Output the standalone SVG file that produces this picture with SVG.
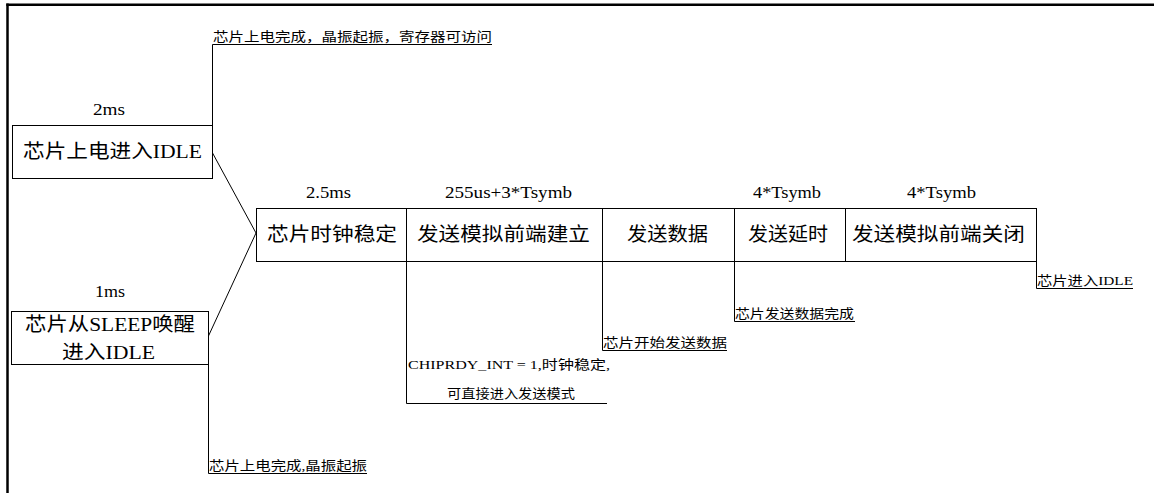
<svg xmlns="http://www.w3.org/2000/svg" width="1154" height="493" viewBox="0 0 1154 493">
<style>
text{font-family:"Liberation Serif","Noto Sans CJK SC",serif;fill:#000}
.box{fill:#fff;stroke:#000;stroke-width:1}
.big{font-size:19px}
.time{font-size:16px}
.note{font-size:13px}
.ln{fill:none;stroke:#000;stroke-width:1}
</style>
<rect width="1154" height="493" fill="#fff"/>
<g id="frame">
<line x1="7.5" y1="3.5" x2="7.5" y2="493" stroke="#000" stroke-width="2.5"/>
<line x1="6.3" y1="4.7" x2="1154" y2="4.7" stroke="#000" stroke-width="2.5"/>
</g>
<g id="connectors">
<polyline class="ln" points="212.5,125 212.5,44.5 492,44.5"/>
<line class="ln" x1="212" y1="152" x2="256" y2="233"/>
<line class="ln" x1="208" y1="337" x2="256" y2="233"/>
<polyline class="ln" points="208.5,364 208.5,473.5 367,473.5"/>
<polyline class="ln" points="406.5,261 406.5,403.5 607,403.5"/>
<polyline class="ln" points="602.5,261 602.5,350.5 727,350.5"/>
<polyline class="ln" points="734.5,261 734.5,321.5 855,321.5"/>
<polyline class="ln" points="1036.5,261 1036.5,288.5 1133,288.5"/>
</g>
<g id="n-poweron">
<rect class="box" x="12.5" y="125.5" width="200" height="53"/>
<text class="big" x="23" y="158" textLength="179" lengthAdjust="spacingAndGlyphs">芯片上电进入IDLE</text>
<text class="time" x="93" y="115" textLength="32" lengthAdjust="spacingAndGlyphs">2ms</text>
</g>
<g id="n-sleep">
<rect class="box" x="11.5" y="311.5" width="197" height="53"/>
<text class="big" x="25" y="331" textLength="170" lengthAdjust="spacingAndGlyphs">芯片从SLEEP唤醒</text>
<text class="big" x="62" y="359" textLength="93" lengthAdjust="spacingAndGlyphs">进入IDLE</text>
<text class="time" x="95" y="297" textLength="30" lengthAdjust="spacingAndGlyphs">1ms</text>
</g>
<g id="n-clock">
<rect class="box" x="256.5" y="208.5" width="150" height="53"/>
<text class="big" x="267" y="241" textLength="130" lengthAdjust="spacingAndGlyphs">芯片时钟稳定</text>
<text class="time" x="306" y="198" textLength="45" lengthAdjust="spacingAndGlyphs">2.5ms</text>
</g>
<g id="n-txsetup">
<rect class="box" x="406.5" y="208.5" width="196" height="53"/>
<text class="big" x="417" y="241" textLength="173" lengthAdjust="spacingAndGlyphs">发送模拟前端建立</text>
<text class="time" x="445" y="198" textLength="127" lengthAdjust="spacingAndGlyphs">255us+3*Tsymb</text>
</g>
<g id="n-txdata">
<rect class="box" x="602.5" y="208.5" width="132" height="53"/>
<text class="big" x="627" y="241" textLength="81" lengthAdjust="spacingAndGlyphs">发送数据</text>
</g>
<g id="n-txdelay">
<rect class="box" x="734.5" y="208.5" width="111" height="53"/>
<text class="big" x="748" y="241" textLength="80" lengthAdjust="spacingAndGlyphs">发送延时</text>
<text class="time" x="753" y="198" textLength="68" lengthAdjust="spacingAndGlyphs">4*Tsymb</text>
</g>
<g id="n-txclose">
<rect class="box" x="845.5" y="208.5" width="191" height="53"/>
<text class="big" x="852" y="241" textLength="173" lengthAdjust="spacingAndGlyphs">发送模拟前端关闭</text>
<text class="time" x="907" y="198" textLength="69" lengthAdjust="spacingAndGlyphs">4*Tsymb</text>
</g>
<g id="notes">
<text class="note" x="213" y="41" textLength="279" lengthAdjust="spacingAndGlyphs">芯片上电完成，晶振起振，寄存器可访问</text>
<text class="note" x="209" y="470" textLength="158" lengthAdjust="spacingAndGlyphs">芯片上电完成,晶振起振</text>
<text class="note" x="408" y="369" textLength="202" lengthAdjust="spacingAndGlyphs">CHIPRDY_INT = 1,时钟稳定,</text>
<text class="note" x="447" y="398" textLength="128" lengthAdjust="spacingAndGlyphs">可直接进入发送模式</text>
<text class="note" x="603" y="347" textLength="124" lengthAdjust="spacingAndGlyphs">芯片开始发送数据</text>
<text class="note" x="735" y="318" textLength="119" lengthAdjust="spacingAndGlyphs">芯片发送数据完成</text>
<text class="note" x="1037" y="285" textLength="96" lengthAdjust="spacingAndGlyphs">芯片进入IDLE</text>
</g>
</svg>
